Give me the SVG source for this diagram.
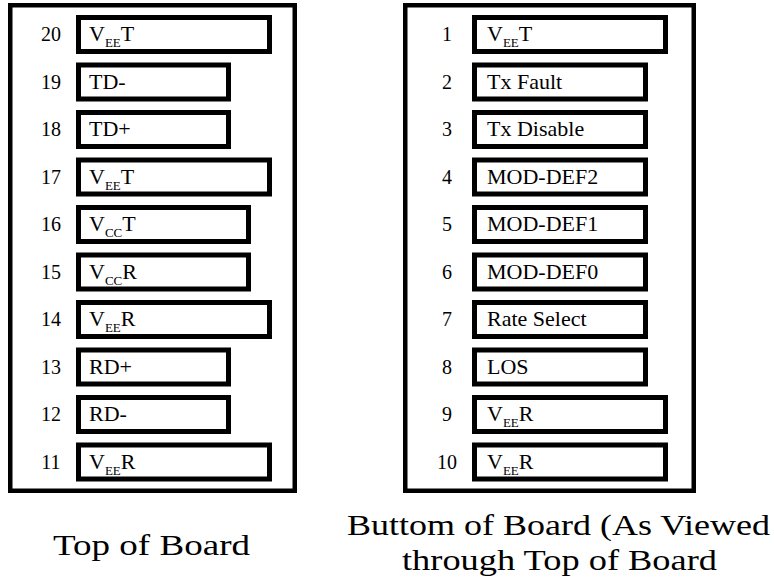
<svg xmlns="http://www.w3.org/2000/svg" width="774" height="580" viewBox="0 0 774 580">
<style>
.panel{fill:#fff;stroke:#000;stroke-width:4.5}
.pin{fill:#fff;stroke:#000;stroke-width:5}
.t{font-family:"Liberation Serif","DejaVu Serif",serif;fill:#000}
.num{font-size:20px;text-anchor:middle}
.lbl{font-size:22px}
.sub{font-size:13px}
.cap{font-size:30px}
</style>
<rect width="774" height="580" fill="#fff"/>
<g id="top-panel">
<rect class="panel" x="10.25" y="5.25" width="284.5" height="485.5"/>
</g>
<g id="bottom-panel">
<rect class="panel" x="405.25" y="5.25" width="288.5" height="485.5"/>
</g>
<g id="connectors"></g>
<g id="pin20"><rect class="pin" x="78.5" y="17.5" width="191" height="34"/><text class="t num" x="51" y="41">20</text><text class="t lbl" x="89" y="41">V<tspan class="sub" dy="6">EE</tspan><tspan dy="-6">T</tspan></text></g>
<g id="pin19"><rect class="pin" x="78.5" y="65" width="150" height="34"/><text class="t num" x="51" y="88.5">19</text><text class="t lbl" x="89" y="88.5">TD-</text></g>
<g id="pin18"><rect class="pin" x="78.5" y="112.5" width="150" height="34"/><text class="t num" x="51" y="136">18</text><text class="t lbl" x="89" y="136">TD+</text></g>
<g id="pin17"><rect class="pin" x="78.5" y="160" width="191" height="34"/><text class="t num" x="51" y="183.5">17</text><text class="t lbl" x="89" y="183.5">V<tspan class="sub" dy="6">EE</tspan><tspan dy="-6">T</tspan></text></g>
<g id="pin16"><rect class="pin" x="78.5" y="207.5" width="170" height="34"/><text class="t num" x="51" y="231">16</text><text class="t lbl" x="89" y="231">V<tspan class="sub" dy="6">CC</tspan><tspan dy="-6">T</tspan></text></g>
<g id="pin15"><rect class="pin" x="78.5" y="255" width="170" height="34"/><text class="t num" x="51" y="278.5">15</text><text class="t lbl" x="89" y="278.5">V<tspan class="sub" dy="6">CC</tspan><tspan dy="-6">R</tspan></text></g>
<g id="pin14"><rect class="pin" x="78.5" y="302.5" width="191" height="34"/><text class="t num" x="51" y="326">14</text><text class="t lbl" x="89" y="326">V<tspan class="sub" dy="6">EE</tspan><tspan dy="-6">R</tspan></text></g>
<g id="pin13"><rect class="pin" x="78.5" y="350" width="150" height="34"/><text class="t num" x="51" y="373.5">13</text><text class="t lbl" x="89" y="373.5">RD+</text></g>
<g id="pin12"><rect class="pin" x="78.5" y="397.5" width="150" height="34"/><text class="t num" x="51" y="421">12</text><text class="t lbl" x="89" y="421">RD-</text></g>
<g id="pin11"><rect class="pin" x="78.5" y="445" width="191" height="34"/><text class="t num" x="51" y="468.5">11</text><text class="t lbl" x="89" y="468.5">V<tspan class="sub" dy="6">EE</tspan><tspan dy="-6">R</tspan></text></g>
<g id="pin1"><rect class="pin" x="474.5" y="17.5" width="191" height="34"/><text class="t num" x="447" y="41">1</text><text class="t lbl" x="487" y="41">V<tspan class="sub" dy="6">EE</tspan><tspan dy="-6">T</tspan></text></g>
<g id="pin2"><rect class="pin" x="474.5" y="65" width="171" height="34"/><text class="t num" x="447" y="88.5">2</text><text class="t lbl" x="487" y="88.5">Tx Fault</text></g>
<g id="pin3"><rect class="pin" x="474.5" y="112.5" width="171" height="34"/><text class="t num" x="447" y="136">3</text><text class="t lbl" x="487" y="136">Tx Disable</text></g>
<g id="pin4"><rect class="pin" x="474.5" y="160" width="171" height="34"/><text class="t num" x="447" y="183.5">4</text><text class="t lbl" x="487" y="183.5">MOD-DEF2</text></g>
<g id="pin5"><rect class="pin" x="474.5" y="207.5" width="171" height="34"/><text class="t num" x="447" y="231">5</text><text class="t lbl" x="487" y="231">MOD-DEF1</text></g>
<g id="pin6"><rect class="pin" x="474.5" y="255" width="171" height="34"/><text class="t num" x="447" y="278.5">6</text><text class="t lbl" x="487" y="278.5">MOD-DEF0</text></g>
<g id="pin7"><rect class="pin" x="474.5" y="302.5" width="171" height="34"/><text class="t num" x="447" y="326">7</text><text class="t lbl" x="487" y="326">Rate Select</text></g>
<g id="pin8"><rect class="pin" x="474.5" y="350" width="171" height="34"/><text class="t num" x="447" y="373.5">8</text><text class="t lbl" x="487" y="373.5">LOS</text></g>
<g id="pin9"><rect class="pin" x="474.5" y="397.5" width="191" height="34"/><text class="t num" x="447" y="421">9</text><text class="t lbl" x="487" y="421">V<tspan class="sub" dy="6">EE</tspan><tspan dy="-6">R</tspan></text></g>
<g id="pin10"><rect class="pin" x="474.5" y="445" width="191" height="34"/><text class="t num" x="447" y="468.5">10</text><text class="t lbl" x="487" y="468.5">V<tspan class="sub" dy="6">EE</tspan><tspan dy="-6">R</tspan></text></g>
<g id="captions">
<text class="t cap" x="53" y="555" textLength="197" lengthAdjust="spacingAndGlyphs">Top of Board</text>
<text class="t cap" x="347" y="535" textLength="423" lengthAdjust="spacingAndGlyphs">Buttom of Board (As Viewed</text>
<text class="t cap" x="402" y="570" textLength="315" lengthAdjust="spacingAndGlyphs">through Top of Board</text>
</g>
</svg>
